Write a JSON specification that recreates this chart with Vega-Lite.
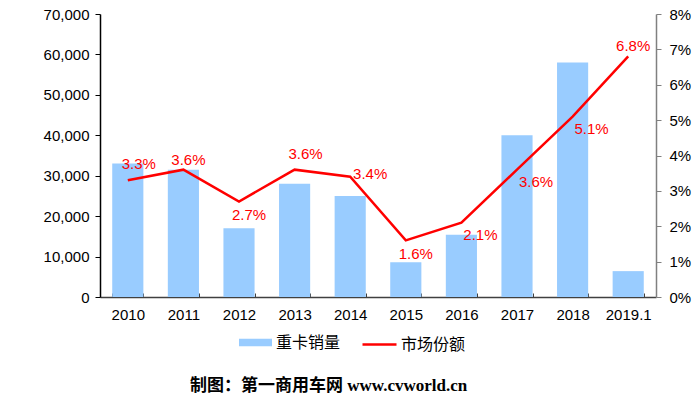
{
  "$schema": "https://vega.github.io/schema/vega-lite/v6.json",
  "width": 556,
  "height": 283,
  "autosize": "none",
  "padding": {"left": 100, "top": 14, "right": 44, "bottom": 99},
  "background": "white",
  "config": {
    "view": {"stroke": null},
    "font": "Liberation Sans",
    "axis": {"labelFont": "Liberation Sans", "labelFontSize": 15, "labelColor": "#000000", "grid": false, "title": null}
  },
  "title": {
    "text": "制图：第一商用车网 www.cvworld.cn",
    "orient": "bottom",
    "anchor": "start",
    "frame": "group",
    "dx": 90,
    "offset": 25,
    "font": "Liberation Serif, Noto Sans CJK SC",
    "fontWeight": "bold",
    "fontSize": 17,
    "color": "#000000"
  },
  "data": {
    "values": [
      {"year": "2010", "sales": 33000, "share": 0.033},
      {"year": "2011", "sales": 31500, "share": 0.036},
      {"year": "2012", "sales": 17000, "share": 0.027},
      {"year": "2013", "sales": 28000, "share": 0.036},
      {"year": "2014", "sales": 25000, "share": 0.034},
      {"year": "2015", "sales": 8600, "share": 0.016},
      {"year": "2016", "sales": 15400, "share": 0.021},
      {"year": "2017", "sales": 40000, "share": 0.036},
      {"year": "2018", "sales": 58000, "share": 0.051},
      {"year": "2019.1", "sales": 6400, "share": 0.068}
    ]
  },
  "encoding": {
    "x": {
      "field": "year",
      "type": "ordinal",
      "sort": null,
      "scale": {"paddingInner": 0.44, "paddingOuter": 0.22},
      "axis": {
        "labelAngle": 0,
        "domainColor": "#404040",
        "domainWidth": 1.5,
        "tickColor": "#404040",
        "tickBand": "extent",
        "tickSize": -4,
        "labelPadding": 14
      }
    }
  },
  "layer": [
    {
      "mark": {"type": "bar"},
      "encoding": {
        "y": {
          "field": "sales",
          "type": "quantitative",
          "scale": {"domain": [0, 70000]},
          "axis": {"values": [0, 10000, 20000, 30000, 40000, 50000, 60000, 70000], "format": ",.0f", "domainColor": "#000000", "domainWidth": 1.5, "tickColor": "#000000", "tickSize": 5, "labelPadding": 6}
        },
        "fill": {
          "datum": "重卡销量",
          "scale": {"range": ["#99CCFF"]},
          "legend": {
            "orient": "none",
            "legendX": 139,
            "legendY": 312,
            "title": null,
            "padding": 0,
            "symbolType": "M-1,-0.22H1V0.22H-1Z",
            "symbolSize": 1089,
            "symbolStrokeWidth": 0,
            "labelFont": "Noto Sans CJK SC",
            "labelFontSize": 16,
            "labelColor": "#000000",
            "labelOffset": 4
          }
        }
      }
    },
    {
      "encoding": {
        "y": {
          "field": "share",
          "type": "quantitative",
          "scale": {"domain": [0, 0.08]},
          "axis": {"orient": "right", "format": ".0%", "values": [0, 0.01, 0.02, 0.03, 0.04, 0.05, 0.06, 0.07, 0.08], "domainColor": "#808080", "domainWidth": 1.5, "tickColor": "#808080", "tickSize": 5, "labelPadding": 8}
        }
      },
      "layer": [
        {
          "mark": {"type": "line", "strokeWidth": 2.5},
          "encoding": {
            "stroke": {
              "datum": "市场份额",
              "scale": {"range": ["#FF0000"]},
              "legend": {
                "orient": "none",
                "legendX": 261,
                "legendY": 312,
                "title": null,
                "padding": 0,
                "symbolType": "stroke",
                "symbolSize": 1156,
                "symbolStrokeWidth": 2.5,
                "labelFont": "Noto Sans CJK SC",
                "labelFontSize": 16,
                "labelColor": "#000000",
                "labelOffset": 3
              }
            }
          }
        },
        {
          "transform": [{"filter": {"field": "year", "oneOf": ["2010", "2013"]}}],
          "mark": {"type": "text", "color": "#FF0000", "fontSize": 15, "dx": 11, "dy": -16},
          "encoding": {"text": {"field": "share", "type": "quantitative", "format": ".1%"}}
        },
        {
          "transform": [{"filter": {"field": "year", "oneOf": ["2011", "2019.1"]}}],
          "mark": {"type": "text", "color": "#FF0000", "fontSize": 15, "dx": 5, "dy": -10},
          "encoding": {"text": {"field": "share", "type": "quantitative", "format": ".1%"}}
        },
        {
          "transform": [{"filter": {"field": "year", "oneOf": ["2012", "2015"]}}],
          "mark": {"type": "text", "color": "#FF0000", "fontSize": 15, "dx": 10, "dy": 14},
          "encoding": {"text": {"field": "share", "type": "quantitative", "format": ".1%"}}
        },
        {
          "transform": [{"filter": {"field": "year", "oneOf": ["2016", "2017", "2018"]}}],
          "mark": {"type": "text", "color": "#FF0000", "fontSize": 15, "dx": 19, "dy": 12},
          "encoding": {"text": {"field": "share", "type": "quantitative", "format": ".1%"}}
        },
        {
          "transform": [{"filter": {"field": "year", "oneOf": ["2014"]}}],
          "mark": {"type": "text", "color": "#FF0000", "fontSize": 15, "dx": 20, "dy": -3},
          "encoding": {"text": {"field": "share", "type": "quantitative", "format": ".1%"}}
        }
      ]
    }
  ],
  "resolve": {"scale": {"y": "independent"}}
}
